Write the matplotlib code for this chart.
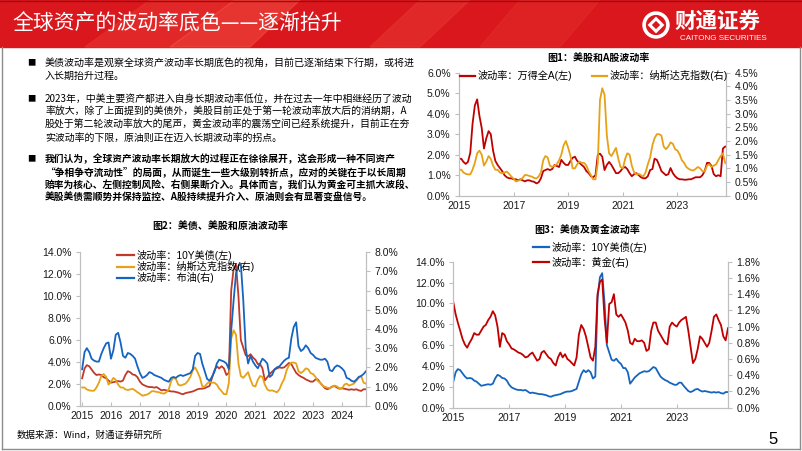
import matplotlib
matplotlib.use("Agg")
import matplotlib.pyplot as plt
from matplotlib.ticker import FuncFormatter, MultipleLocator
from matplotlib.patches import Rectangle, Polygon, Circle
from matplotlib.lines import Line2D
import pandas as pd

plt.rcParams['font.family'] = ['Liberation Sans', 'Noto Sans CJK SC', 'DejaVu Sans']
plt.rcParams['axes.unicode_minus'] = False
CJK = ['Noto Sans CJK SC', 'DejaVu Sans']

## monthly points, Jan 2015 .. Nov 2024
months = pd.date_range("2015-01-01", periods=119, freq="MS")

wind_a = [1.8, 1.8, 1.65, 1.55, 1.65, 2.1, 3.5, 4.4, 4.7, 3.9, 3.3, 2.3,
          2.8, 3.15, 3.0, 2.2, 1.7, 1.5, 1.35, 1.2, 1.0, 0.9, 0.85, 0.85,
          0.8, 0.8, 0.75, 0.8, 0.75, 0.7, 0.75, 0.75, 0.7, 0.68, 0.6, 0.65,
          0.85, 1.2, 1.25, 1.3, 1.25, 1.3, 1.5, 1.45, 1.4, 1.75, 1.6, 1.5,
          1.5, 1.7, 1.85, 1.9, 1.7, 1.6, 1.5, 1.4, 1.2, 1.1, 0.95, 0.9,
          1.0, 2.0, 2.05, 1.9, 1.25, 1.5, 1.65, 1.5, 1.3, 1.1, 1.1, 1.2,
          1.35, 1.4, 1.3, 1.1, 0.95, 1.05, 1.1, 1.0, 0.9, 0.85, 0.85, 0.95,
          1.25, 1.3, 1.8, 1.75, 1.5, 1.2, 1.1, 1.0, 1.05, 1.35, 1.1, 0.95,
          0.85, 0.8, 0.8, 0.78, 0.78, 0.8, 0.8, 0.85, 0.9, 0.9, 0.9, 1.0,
          1.2, 1.6, 1.6, 1.45, 1.05, 0.95, 1.0, 0.95, 2.3, 2.4, 2.4]

nasdaq = [0.95, 0.95, 0.85, 0.8, 0.78, 0.78, 0.95, 1.2, 1.55, 1.65, 1.5, 1.1,
          1.25, 1.45, 1.35, 1.1, 0.95, 0.95, 0.85, 0.82, 0.85, 0.88, 0.8, 0.7,
          0.62, 0.52, 0.55, 0.58, 0.65, 0.76, 0.75, 0.72, 0.7, 0.65, 0.63, 0.7,
          0.85, 1.3, 1.45, 1.4, 1.1, 1.05, 1.1, 1.15, 1.3, 1.5, 1.85, 2.0,
          1.75, 1.45, 1.0, 1.0, 1.15, 1.25, 1.2, 1.2, 1.1, 0.9, 0.75, 0.6,
          0.6, 1.2, 3.5, 3.93, 3.7, 2.2, 1.55, 1.45, 1.6, 1.75, 1.35, 1.05,
          1.0, 1.35, 1.55, 1.5, 1.1, 0.85, 0.78, 0.8, 0.75, 0.7, 0.85, 1.15,
          1.4, 1.85, 2.1, 2.25, 2.25, 2.2, 1.8, 1.7, 1.8, 1.95, 1.9, 1.7,
          1.65, 1.5, 1.3, 1.2, 1.05, 0.98, 0.94, 0.92, 0.98, 1.05, 1.0, 0.9,
          0.88, 1.1, 1.15, 1.05, 1.1, 1.15, 1.3, 1.45, 1.55, 1.2, 1.15]

ust10y = [2.5, 3.4, 3.7, 3.6, 3.3, 3.0, 2.8, 2.85, 2.8, 2.6, 2.5, 2.3,
          2.1, 2.15, 2.2, 2.25, 2.2, 2.3, 2.8, 3.15, 3.05, 2.85, 2.8, 2.6,
          2.2, 1.95, 1.85, 1.75, 1.7, 1.7, 1.65, 1.7, 1.55, 1.4, 1.45, 1.4,
          1.35, 1.3, 1.3, 1.25, 1.2, 1.1, 1.05, 1.15, 1.2, 1.25, 1.3, 1.4,
          1.5, 1.55, 1.55, 1.6, 1.7, 1.8, 2.5, 3.2, 3.6, 3.4, 3.6, 3.4,
          2.8, 3.0, 10.5, 12.5, 12.9, 10.0, 6.0, 5.3, 4.6, 4.5, 4.7, 4.4,
          4.2, 3.8, 3.8, 3.4, 2.3, 2.6, 2.9, 3.1, 3.3, 3.4, 3.5, 3.45,
          3.5, 3.7, 3.9, 3.8, 3.4, 3.0, 2.8, 2.65, 2.55, 2.4, 2.3, 2.2,
          2.2, 2.4, 2.4, 2.1, 1.85, 1.6, 1.5, 1.6, 1.75, 1.8, 1.65, 1.55,
          1.6, 1.55, 1.5, 1.45, 1.5, 1.45, 1.5, 1.4, 1.35, 1.5, 1.5]

brent = [1.9, 2.8, 3.0, 2.8, 2.45, 2.35, 2.3, 2.3, 2.7, 3.0, 3.25, 3.3,
         2.45, 2.9, 3.7, 3.8, 3.3, 2.6, 2.5, 2.75, 2.7, 2.6, 2.45, 2.05,
         1.7, 1.45, 1.5, 1.6, 1.75, 1.7, 1.6, 1.55, 1.5, 1.45, 1.35, 1.3,
         1.25, 1.45, 1.5, 1.45, 1.55, 1.6, 1.55, 1.6, 1.65, 1.7, 1.9, 2.6,
         2.75, 2.7, 2.2, 1.8, 1.4, 1.3, 1.5, 1.75, 2.2, 2.4, 2.35, 2.3,
         2.2, 1.9, 3.9, 5.5, 6.9, 7.3, 7.4, 5.5, 3.0, 2.2, 2.6, 2.3,
         2.1, 1.95, 2.2, 2.45, 2.35, 2.2, 1.5, 1.6, 1.9, 2.0, 2.05, 2.2,
         2.35, 2.45, 2.5, 3.5, 4.1, 4.35, 3.1, 2.85, 2.95, 3.15, 3.0, 2.75,
         2.65, 2.5, 2.45, 2.4, 2.4, 2.45, 2.3, 1.85, 1.8, 2.0, 2.1, 2.05,
         1.95, 1.8, 1.45, 1.4, 1.3, 1.25, 1.35, 1.5, 1.55, 1.65, 1.8]

gold = [1.3, 1.15, 1.05, 0.95, 0.85, 0.78, 0.74, 0.8, 0.85, 0.92, 0.9, 0.9,
        0.95, 1.0, 1.02, 1.08, 1.12, 1.19, 1.14, 1.0, 0.75, 0.92, 0.9, 0.82,
        0.78, 0.73, 0.72, 0.7, 0.68, 0.67, 0.65, 0.62, 0.63, 0.66, 0.68, 0.63,
        0.58, 0.6, 0.68, 0.7, 0.66, 0.62, 0.6, 0.55, 0.52, 0.62, 0.68, 0.62,
        0.66, 0.6, 0.58, 0.55, 0.52, 0.62, 0.9, 1.02, 0.97, 0.88, 0.75, 0.62,
        0.58, 0.75, 1.4, 1.55, 1.58, 1.1, 0.8, 1.28, 1.3, 1.4, 1.15, 1.12,
        1.15, 1.1, 1.05, 0.95, 0.8, 0.78, 0.85, 0.82, 0.82, 0.83, 0.8, 0.7,
        0.72, 0.95, 1.05, 1.05, 0.95, 0.9, 0.85, 0.8, 0.78, 1.0, 1.05, 1.02,
        1.0, 1.05, 1.08, 1.1, 1.12, 0.95, 0.75, 0.55, 0.6, 0.72, 0.88, 0.85,
        0.8, 0.75, 0.8, 0.95, 1.12, 1.15, 1.08, 1.02, 0.88, 0.83, 0.98]

title = "全球资产的波动率底色——逐渐抬升"
para1 = ["美债波动率是观察全球资产波动率长期底色的视角，目前已逐渐结束下行期，或将进",
         "入长期抬升过程。"]
para2 = ["2023年，中美主要资产都进入自身长期波动率低位，并在过去一年中相继经历了波动",
         "率放大，除了上面提到的美债外，美股目前正处于第一轮波动率放大后的消纳期，A",
         "股处于第二轮波动率放大的尾声，黄金波动率的震荡空间已经系统提升，目前正在夯",
         "实波动率的下限，原油则正在迈入长期波动率的拐点。"]
para3 = ["我们认为，全球资产波动率长期放大的过程正在徐徐展开，这会形成一种不同资产",
         "“争相争夺流动性”的局面，从而诞生一些大级别转折点，应对的关键在于以长周期",
         "赔率为核心、左侧控制风险、右侧果断介入。具体而言，我们认为黄金可主抓大波段、",
         "美股美债需顺势并保持监控、A股持续提升介入、原油则会有显著变盘信号。"]

RED = '#c00000'
ORANGE = '#e6a117'
BRICK = '#c0392b'
BLUE = '#1565c0'
GRID = '#bfbfbf'

W, H = 802, 451
def fx(x):
    return x / W
def fy(y):
    return 1 - y / H

fig = plt.figure(figsize=(8.02, 4.51), dpi=100)

##header band
fig.patches.append(Rectangle((0, fy(47)), 1, 47 / H, transform=fig.transFigure,
                             color='#d9171d', zorder=0))
for pts, col in [([(150, 0), (235, 0), (170, 47), (85, 47)], '#e8332f'),
                 ([(235, 0), (300, 0), (250, 47), (170, 47)], '#f04a3e'),
                 ([(420, 0), (470, 0), (420, 47), (370, 47)], '#e63430'),
                 ([(520, 0), (600, 0), (560, 47), (480, 47)], '#e22b28')]:
    fig.patches.append(Polygon([(fx(a), fy(b)) for a, b in pts], closed=True,
                               transform=fig.transFigure, color=col, alpha=0.6, zorder=0))
fig.add_artist(Line2D([0, 1], [fy(0.5), fy(0.5)], transform=fig.transFigure,
                      color='#9e0b10', lw=1))
fig.text(fx(12), fy(24), title, color='white', fontsize=15, va='center', family=CJK)

##logo
lax = fig.add_axes([fx(642), fy(39), 28 / W, 28 / H])
lax.set_zorder(5)
lax.set_xlim(-1, 1)
lax.set_ylim(-1, 1)
lax.set_aspect('equal')
lax.axis('off')
lax.add_patch(Circle((0, 0), 0.85, fill=False, ec='white', lw=2.6))
lax.add_patch(Polygon([(-0.45, 0.0), (0.0, 0.45), (0.45, 0.0), (0.0, -0.45)],
                      closed=True, fill=False, ec='white', lw=2.2))
fig.text(fx(674), fy(21), "财通证券", color='white', fontsize=15.5, weight='bold',
         va='center', family=CJK)
fig.text(fx(680), fy(38), "CAITONG SECURITIES", color='white', fontsize=5.8, va='center')

##slide frame
for xs, ys in [([1.5, 1.5], [47, 449]), ([800, 800], [47, 449]), ([1.5, 800], [449, 449])]:
    fig.add_artist(Line2D([fx(v) for v in xs], [fy(v) for v in ys],
                          transform=fig.transFigure, color='#8c8c8c', lw=1))

##bullet text, each paragraph sized so its longest line ends near x=413
renderer = fig.canvas.get_renderer()
blocks = [(para1, [63, 76], 'normal'),
          (para2, [99, 112, 125, 138], 'normal'),
          (para3, [159, 172, 185, 198], 'bold')]
for lines, ys, wt in blocks:
    fig.text(fx(27), fy(ys[0]), "■", fontsize=6, va='center', family=CJK)
    texts = [fig.text(fx(45), fy(yy), line, fontsize=7.5, va='center', weight=wt, family=CJK)
             for line, yy in zip(lines, ys)]
    widest = max(t.get_window_extent(renderer).width for t in texts)
    size = min(7.7, 7.5 * 368 / widest)
    for t in texts:
        t.set_fontsize(size)

fig.text(fx(17), fy(435), "数据来源：Wind，财通证券研究所", fontsize=6.8, va='center', family=CJK)
fig.text(fx(773), fy(440), "5", fontsize=12, va='center', ha='center')

pct = FuncFormatter(lambda v, p: f"{v:.1f}%")

def make_axes(rect):
    ax = fig.add_axes(rect)
    axr = ax.twinx()
    for a in (ax, axr):
        a.spines['top'].set_visible(False)
        for s in ['left', 'right', 'bottom']:
            a.spines[s].set_color(GRID)
            a.spines[s].set_linewidth(0.8)
        a.tick_params(axis='y', length=3, color=GRID, labelsize=7.5, pad=3, labelcolor='#1a1a1a')
        a.tick_params(axis='x', direction='in', length=3, color=GRID, labelsize=7.5, pad=4,
                      labelcolor='#1a1a1a')
        a.yaxis.set_major_formatter(pct)
        a.patch.set_visible(False)
    return ax, axr

def set_years(ax, years, start, end):
    ax.set_xticks([pd.Timestamp(f"{y}-01-01") for y in years])
    ax.set_xticklabels([str(y) for y in years])
    ax.set_xlim(pd.Timestamp(start), pd.Timestamp(end))

##chart 1
fig.text(fx(598), fy(58), "图1：美股和A股波动率", fontsize=7.2, weight='bold', ha='center',
         va='center', family=CJK)
ax1, ax1r = make_axes([fx(459), fy(195.7), 267 / W, 123 / H])
ax1.plot(months, wind_a, color=RED, lw=1.3)
ax1r.plot(months, nasdaq, color=ORANGE, lw=1.3)
ax1.set_ylim(0, 6)
ax1.yaxis.set_major_locator(MultipleLocator(1))
ax1r.set_ylim(0, 4.5)
ax1r.yaxis.set_major_locator(MultipleLocator(0.5))
set_years(ax1, [2015, 2017, 2019, 2021, 2023], "2015-01-01", "2024-10-12")
fig.legend([Line2D([], [], color=RED, lw=1.6), Line2D([], [], color=ORANGE, lw=1.6)],
           ["波动率：万得全A(左)", "波动率：纳斯达克指数(右)"],
           loc='upper left', bbox_to_anchor=(fx(460), fy(70)), ncol=2, frameon=False,
           fontsize=7.3, handlelength=1.5, handletextpad=0.2, columnspacing=2.0,
           borderpad=0, borderaxespad=0)

##chart 2
fig.text(fx(220), fy(226), "图2：美债、美股和原油波动率", fontsize=7.2, weight='bold',
         ha='center', va='center', family=CJK)
ax2, ax2r = make_axes([fx(80), fy(405.7), 286 / W, 153.4 / H])
ax2.plot(months, ust10y, color=BRICK, lw=1.3)
ax2r.plot(months, nasdaq, color=ORANGE, lw=1.3)
ax2r.plot(months, brent, color=BLUE, lw=1.3)
ax2.set_ylim(0, 14)
ax2.yaxis.set_major_locator(MultipleLocator(2))
ax2r.set_ylim(0, 8)
ax2r.yaxis.set_major_locator(MultipleLocator(1))
set_years(ax2, list(range(2015, 2025)), "2014-12-05", "2024-11-01")
fig.legend([Line2D([], [], color=BRICK, lw=1.6), Line2D([], [], color=ORANGE, lw=1.6),
            Line2D([], [], color=BLUE, lw=1.6)],
           ["波动率：10Y美债(左)", "波动率：纳斯达克指数(右)", "波动率：布油(右)"],
           loc='upper left', bbox_to_anchor=(fx(117), fy(250)), ncol=1, frameon=False,
           fontsize=7.3, handlelength=1.7, handletextpad=0.2, labelspacing=0.0,
           borderpad=0, borderaxespad=0)

##chart 3
fig.text(fx(587), fy(230), "图3：美债及黄金波动率", fontsize=7.2, weight='bold',
         ha='center', va='center', family=CJK)
ax3, ax3r = make_axes([fx(453.3), fy(407.7), 275 / W, 146 / H])
ax3.plot(months, ust10y, color=BLUE, lw=1.3)
ax3r.plot(months, gold, color=RED, lw=1.3)
ax3.set_ylim(0, 14)
ax3.yaxis.set_major_locator(MultipleLocator(2))
ax3r.set_ylim(0, 1.8)
ax3r.yaxis.set_major_locator(MultipleLocator(0.2))
set_years(ax3, [2015, 2017, 2019, 2021, 2023], "2015-01-01", "2024-11-05")
fig.legend([Line2D([], [], color=BLUE, lw=1.6), Line2D([], [], color=RED, lw=1.6)],
           ["波动率：10Y美债(左)", "波动率：黄金(右)"],
           loc='upper left', bbox_to_anchor=(fx(533), fy(242)), ncol=1, frameon=False,
           fontsize=7.3, handlelength=1.6, handletextpad=0.2, labelspacing=0.35,
           borderpad=0, borderaxespad=0)

fig.savefig("out.png", dpi=100)
